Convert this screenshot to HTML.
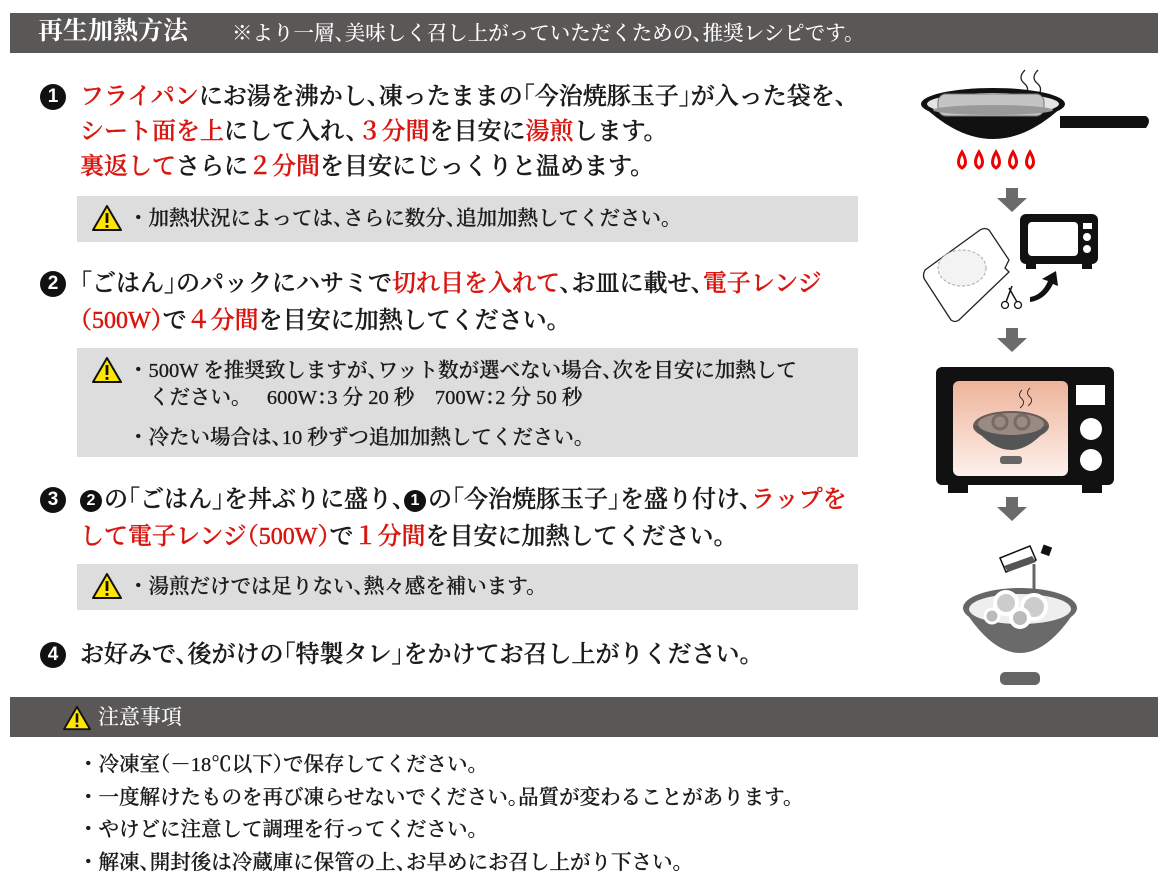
<!DOCTYPE html>
<html><head><meta charset="utf-8"><style>
body{margin:0;width:1169px;height:886px;background:#fff;position:relative;overflow:hidden;font-family:"Liberation Serif","Noto Serif CJK SC",serif;color:#1a1a1a;font-feature-settings:"halt"}
.a{position:absolute;white-space:nowrap}
.bar{position:absolute;left:10px;width:1148px;background:#5a5757;color:#fff}
.m{font-size:24px;line-height:30px;font-weight:500;-webkit-text-stroke:0.45px currentColor}
.r{color:#d8160f}
.box{position:absolute;left:77px;width:781px;background:#dddddd}
.w{font-size:20.5px;line-height:26px;font-weight:500;-webkit-text-stroke:0.3px currentColor}
.b{font-feature-settings:normal}
.n{display:inline-block;width:26px;height:26px;border-radius:50%;background:#111;color:#fff;font-size:19px;line-height:26px;text-align:center;font-family:"Liberation Sans",sans-serif;font-weight:bold;vertical-align:2px;margin-right:14px;-webkit-text-stroke:0}
.n2{display:inline-block;width:22px;height:22px;border-radius:50%;background:#111;color:#fff;font-size:16px;line-height:22px;text-align:center;font-family:"Liberation Sans",sans-serif;font-weight:bold;vertical-align:2px;margin-right:2px;-webkit-text-stroke:0}
.s{font-size:20.5px;line-height:26px;font-weight:500;-webkit-text-stroke:0.3px currentColor}
</style></head><body>
<div class="bar" style="top:13px;height:40px"></div>
<div class="a" style="left:38px;top:15px;color:#fff;font-size:25px;font-weight:bold;line-height:34px">再生加熱方法</div>
<div class="a" style="left:232px;top:19px;color:#fff;font-size:20.5px;line-height:30px;font-weight:500">※より一層、美味しく召し上がっていただくための、推奨レシピです。</div>

<svg width="0" height="0" style="position:absolute"><defs><symbol id="tri" viewBox="0 0 32 28"><polygon points="16,2 30,26 2,26" fill="#ffe600" stroke="#111" stroke-width="2" stroke-linejoin="round"/><rect x="14.6" y="9" width="2.8" height="10" fill="#111"/><rect x="14.6" y="21" width="2.8" height="2.8" fill="#111"/></symbol></defs></svg>

<div class="a m" style="left:40px;top:82px"><span class="n">1</span><span class="r">フライパン</span>にお湯を沸かし、凍ったままの「今治焼豚玉子」が入った袋を、</div>
<div class="a m" style="left:80px;top:117px"><span class="r">シート面を上</span>にして入れ、<span class="r">３分間</span>を目安に<span class="r">湯煎</span>します。</div>
<div class="a m" style="left:80px;top:152px"><span class="r">裏返して</span>さらに<span class="r">２分間</span>を目安にじっくりと温めます。</div>
<div class="box" style="top:196px;height:46px"></div>
<svg class="a" style="left:91px;top:204px" width="32" height="28"><use href="#tri"/></svg>
<div class="a w" style="left:128px;top:206px"><span class="b">・</span>加熱状況によっては、さらに数分、追加加熱してください。</div>

<div class="a m" style="left:40px;top:269px"><span class="n">2</span>「ごはん」のパックにハサミで<span class="r">切れ目を入れて</span>、お皿に載せ、<span class="r">電子レンジ</span></div>
<div class="a m" style="left:80px;top:306px"><span class="r">（500W）</span>で<span class="r">４分間</span>を目安に加熱してください。</div>
<div class="box" style="top:348px;height:109px"></div>
<svg class="a" style="left:91px;top:356px" width="32" height="28"><use href="#tri"/></svg>
<div class="a w" style="left:128px;top:358px"><span class="b">・</span>500W を推奨致しますが、ワット数が選べない場合、次を目安に加熱して</div>
<div class="a w" style="left:149px;top:385px">ください。　 600W：3 分 20 秒　700W：2 分 50 秒</div>
<div class="a w" style="left:128px;top:425px"><span class="b">・</span>冷たい場合は、10 秒ずつ追加加熱してください。</div>

<div class="a m" style="left:40px;top:485px"><span class="n">3</span><span class="n2">2</span>の「ごはん」を丼ぶりに盛り、<span class="n2">1</span>の「今治焼豚玉子」を盛り付け、<span class="r">ラップを</span></div>
<div class="a m" style="left:80px;top:522px"><span class="r">して電子レンジ（500W）</span>で<span class="r">１分間</span>を目安に加熱してください。</div>
<div class="box" style="top:564px;height:46px"></div>
<svg class="a" style="left:91px;top:572px" width="32" height="28"><use href="#tri"/></svg>
<div class="a w" style="left:128px;top:574px"><span class="b">・</span>湯煎だけでは足りない、熱々感を補います。</div>

<div class="a m" style="left:40px;top:640px"><span class="n">4</span>お好みで、後がけの「特製タレ」をかけてお召し上がりください。</div>

<div class="bar" style="top:697px;height:40px"></div>
<svg class="a" style="left:62px;top:705px" width="30" height="26"><use href="#tri"/></svg>
<div class="a" style="left:98px;top:702px;color:#fff;font-size:21px;line-height:30px;font-weight:500">注意事項</div>
<div class="a s" style="left:78px;top:752px"><span class="b">・</span>冷凍室（－18℃以下）で保存してください。</div>
<div class="a s" style="left:78px;top:785px"><span class="b">・</span>一度解けたものを再び凍らせないでください。品質が変わることがあります。</div>
<div class="a s" style="left:78px;top:817px"><span class="b">・</span>やけどに注意して調理を行ってください。</div>
<div class="a s" style="left:78px;top:850px"><span class="b">・</span>解凍、開封後は冷蔵庫に保管の上、お早めにお召し上がり下さい。</div>

<svg class="a" style="left:900px;top:60px" width="260" height="630" viewBox="0 0 260 630">
<path d="M125 10 q-8 8 0 14 q6 6 -2 14" fill="none" stroke="#222" stroke-width="1.3"/>
<path d="M138 10 q-8 8 0 14 q6 6 -2 14" fill="none" stroke="#222" stroke-width="1.3"/>
<ellipse cx="93" cy="44" rx="72" ry="16" fill="#111"/>
<path d="M21 44 q72 70 144 0 z" fill="#111"/>
<ellipse cx="93" cy="44" rx="66" ry="11" fill="#e4e4e4"/>
<rect x="38" y="34" width="106" height="22" rx="8" fill="#c4c4c4" stroke="#777"/>
<ellipse cx="93" cy="50" rx="60" ry="5" fill="#999"/>
<path d="M160 56 h86 q6 4 0 12 h-86 z" fill="#111"/>
<g fill="#fff" stroke="#e00" stroke-width="3">
<path d="M62 92 q-7 12 0 16 q7 -4 0 -16z"/><path d="M79 92 q-7 12 0 16 q7 -4 0 -16z"/><path d="M96 92 q-7 12 0 16 q7 -4 0 -16z"/><path d="M113 92 q-7 12 0 16 q7 -4 0 -16z"/><path d="M130 92 q-7 12 0 16 q7 -4 0 -16z"/>
</g>
<g fill="#6b6b6b">
<path d="M106 128 h12 v10 h9 l-15 14 l-15 -14 h9z"/>
<path d="M106 268 h12 v10 h9 l-15 14 l-15 -14 h9z"/>
<path d="M106 437 h12 v10 h9 l-15 14 l-15 -14 h9z"/>
</g>
<path d="M25 210 l55 -40 q5 -3 9 0 l20 30 l-4 8 l4 4 l-50 48 q-4 3 -8 0 l-26 -40 q-3 -4 0 -10z" fill="#fff" stroke="#222" stroke-width="1.3"/>
<ellipse cx="62" cy="208" rx="24" ry="18" fill="#f3f3f3" stroke="#aaa" stroke-dasharray="3 2"/>
<rect x="120" y="154" width="78" height="50" rx="6" fill="#111"/>
<rect x="128" y="162" width="50" height="34" rx="4" fill="#fff"/>
<rect x="183" y="163" width="9" height="6" fill="#fff"/><circle cx="187" cy="177" r="4" fill="#fff"/><circle cx="187" cy="189" r="4" fill="#fff"/>
<rect x="126" y="204" width="10" height="5" fill="#111"/><rect x="182" y="204" width="10" height="5" fill="#111"/>
<path d="M130 237 q12 -2 18 -16 l-6 -2 l14 -8 l2 15 l-5 -2 q-8 16 -23 18z" fill="#111"/>
<circle cx="105" cy="245" r="3.5" fill="none" stroke="#111" stroke-width="1.3"/><circle cx="118" cy="245" r="3.5" fill="none" stroke="#111" stroke-width="1.3"/>
<path d="M106 242 l6 -16 M117 242 l-8 -14" stroke="#111" stroke-width="1.5"/>
<rect x="36" y="307" width="178" height="118" rx="6" fill="#111"/>
<rect x="48" y="422" width="20" height="11" fill="#111"/><rect x="182" y="422" width="20" height="11" fill="#111"/>
<defs><linearGradient id="g" x1="0" y1="0" x2="0" y2="1"><stop offset="0" stop-color="#eeb39a"/><stop offset="1" stop-color="#fdf1ec"/></linearGradient></defs>
<rect x="53" y="321" width="115" height="95" rx="6" fill="url(#g)"/>
<rect x="176" y="325" width="29" height="20" fill="#fff"/>
<circle cx="191" cy="369" r="11" fill="#fff"/><circle cx="191" cy="400" r="11" fill="#fff"/>
<path d="M122 330 q-5 5 0 9 q4 4 -2 9 M130 328 q-5 5 0 9 q4 4 -2 9" fill="none" stroke="#333"/>
<ellipse cx="111" cy="366" rx="38" ry="15" fill="#6a5c58"/>
<path d="M73 366 q38 48 76 0z" fill="#555"/>
<rect x="100" y="396" width="22" height="8" rx="3" fill="#666"/>
<ellipse cx="111" cy="364" rx="33" ry="11" fill="#9a8a84"/>
<circle cx="100" cy="362" r="7" fill="none" stroke="#7a6a64" stroke-width="3"/><circle cx="122" cy="362" r="7" fill="none" stroke="#7a6a64" stroke-width="3"/>
<path d="M100 498 l30 -12 l6 14 l-30 12z" fill="#fff" stroke="#111" stroke-width="1.5"/>
<path d="M104 506 l28 -10 l4 6 l-28 10z" fill="#555"/>
<rect x="142" y="486" width="9" height="9" fill="#111" transform="rotate(20 147 490)"/>
<path d="M134 504 v50 q-3 6 -10 0" fill="none" stroke="#666" stroke-width="3"/>
<ellipse cx="120" cy="548" rx="57" ry="20" fill="#666"/>
<path d="M63 548 q57 90 114 0z" fill="#6a6a6a"/>
<rect x="100" y="612" width="40" height="13" rx="5" fill="#666"/>
<ellipse cx="120" cy="549" rx="51" ry="15" fill="#eee"/>
<circle cx="106" cy="543" r="11" fill="#ccc" stroke="#fff" stroke-width="4"/><circle cx="134" cy="547" r="12" fill="#ccc" stroke="#fff" stroke-width="4"/><circle cx="120" cy="558" r="9" fill="#bbb" stroke="#fff" stroke-width="4"/><circle cx="92" cy="556" r="7" fill="#bbb" stroke="#fff" stroke-width="3"/>
</svg>
</body></html>
